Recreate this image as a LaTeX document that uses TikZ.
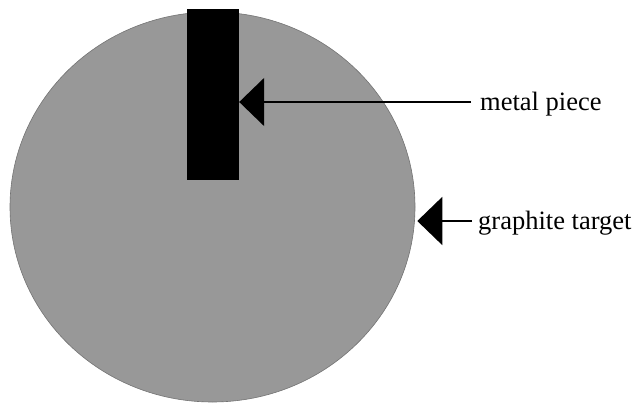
\documentclass[tikz,border=0pt]{standalone}
\usepackage{fontspec}
\setmainfont{Liberation Serif}
\usepackage{tikz}
\usetikzlibrary{shapes.geometric, arrows.meta, positioning}
\definecolor{targetgray}{RGB}{152,152,152}
\tikzstyle{disc}  = [ellipse, minimum width=405pt, minimum height=390pt, inner sep=0pt, fill=targetgray, draw=black!55, line width=0.6pt]
\tikzstyle{piece} = [rectangle, minimum width=52pt, minimum height=171pt, inner sep=0pt, fill=black]
\tikzstyle{tag}   = [anchor=west, inner sep=0pt, font=\fontsize{26.5}{30}\selectfont]
\tikzstyle{pointer} = [line width=1.6pt, -{Triangle[length=25pt, width=48pt]}]

\begin{document}
\begin{tikzpicture}[x=1pt, y=-1pt]
  \useasboundingbox (0,0) rectangle (636,406);

  % Graphite target
  \node[disc] (target) at (212.5,207) {};

  % Metal piece
  \node[piece] (metal) at (213,94.5) {};

  % Labels
  \node[tag] (lblmetal) at (480,104) {metal piece};
  \node[tag] (lbltarget) at (478,223) {graphite target};

  % Pointers
  \draw[pointer] ([xshift=-9pt,yshift=2pt]lblmetal.west) -- ([yshift=2pt]lblmetal.west -| metal.east);
  \draw[pointer] ([xshift=-6pt,yshift=2pt]lbltarget.west) -- ([xshift=2pt,yshift=2pt]lbltarget.west -| target.east);
\end{tikzpicture}
\end{document}
